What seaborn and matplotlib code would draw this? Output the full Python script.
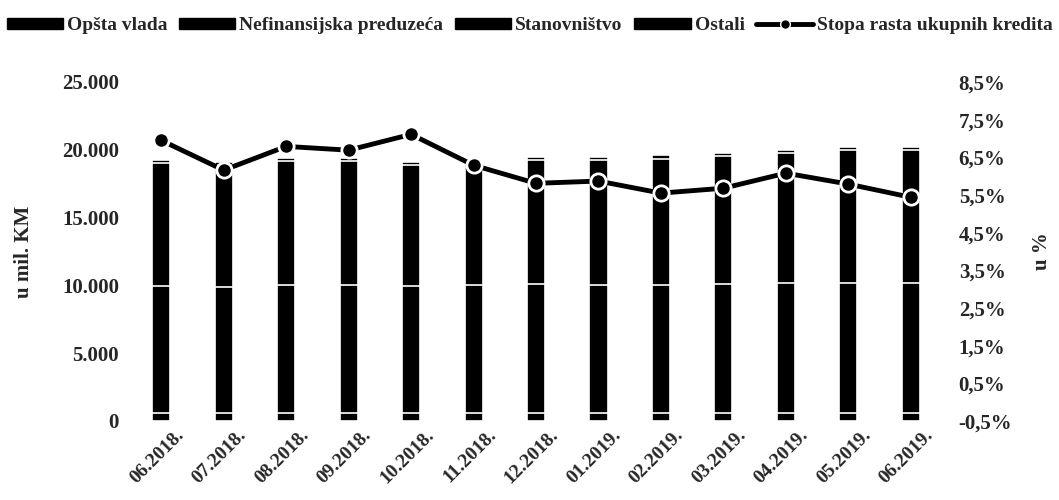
import numpy as np
import pandas as pd
import matplotlib
matplotlib.use("Agg")
import matplotlib.pyplot as plt
import matplotlib.transforms as mtransforms
from matplotlib.patches import Patch
from matplotlib.lines import Line2D
import seaborn as sns

# data (u mil. KM, stopa u %)
months = ["06.2018.", "07.2018.", "08.2018.", "09.2018.", "10.2018.", "11.2018.",
          "12.2018.", "01.2019.", "02.2019.", "03.2019.", "04.2019.", "05.2019.", "06.2019."]
opsta_vlada = [620, 610, 600, 600, 590, 600, 610, 600, 590, 600, 600, 610, 600]
nefinansijska = [9350, 9300, 9400, 9400, 9350, 9400, 9500, 9450, 9450, 9500, 9550, 9600, 9600]
stanovnistvo = [9030, 8940, 9150, 9150, 8910, 8950, 9140, 9200, 9300, 9450, 9600, 9740, 9750]
ostali = [250, 250, 250, 250, 250, 250, 250, 250, 260, 250, 250, 250, 250]
stopa_rasta = [6.95, 6.16, 6.79, 6.69, 7.11, 6.29, 5.81, 5.87, 5.55, 5.68, 6.08, 5.79, 5.44]

df = pd.DataFrame({"mjesec": months, "Opšta vlada": opsta_vlada,
                   "Nefinansijska preduzeća": nefinansijska,
                   "Stanovništvo": stanovnistvo, "Ostali": ostali})
series = ["Opšta vlada", "Nefinansijska preduzeća", "Stanovništvo", "Ostali"]
cum = df[series].cumsum(axis=1)

sns.set_style("white")
plt.rcParams["font.family"] = ["Liberation Serif", "DejaVu Serif"]
plt.rcParams["font.weight"] = "bold"

fig = plt.figure(figsize=(10.59, 5.0), dpi=100)
ax = fig.add_axes([0.1228, 0.158, 0.7667, 0.678])

# stacked bars: draw cumulative totals from top down
for s in reversed(series):
    sns.barplot(x=df["mjesec"], y=cum[s], color="black", saturation=1, width=0.29,
                edgecolor="white", linewidth=1.2, errorbar=None, ax=ax)

ax.set_ylim(0, 25000)
ax.set_yticks(np.arange(0, 25001, 5000))
ax.set_yticklabels([f"{v:,.0f}".replace(",", ".") for v in np.arange(0, 25001, 5000)],
                   fontsize=15, fontweight="bold")
ax.set_xlim(-0.5, len(months) - 0.5)
ax.set_xlabel("")
ax.set_ylabel("u mil. KM", fontsize=15, fontweight="bold", labelpad=20)
ax.tick_params(axis="x", length=0, pad=4)
ax.tick_params(axis="y", length=0, pad=8)
shift = mtransforms.ScaledTranslation(0.14, 0, fig.dpi_scale_trans)
for lbl in ax.get_xticklabels():
    lbl.set_rotation(45)
    lbl.set_ha("right")
    lbl.set_rotation_mode("anchor")
    lbl.set_fontsize(14)
    lbl.set_fontweight("bold")
    lbl.set_transform(lbl.get_transform() + shift)
sns.despine(ax=ax, left=True, bottom=True)

ax2 = ax.twinx()
sns.lineplot(x=np.arange(len(months)), y=stopa_rasta, color="black", linewidth=3.5,
             marker="o", markersize=11, markerfacecolor="black", markeredgecolor="white",
             markeredgewidth=2, ax=ax2)
ax2.set_ylim(-0.5, 8.5)
ticks2 = np.arange(-0.5, 8.6, 1.0)
ax2.set_yticks(ticks2)
ax2.set_yticklabels([f"{t:.1f}%".replace(".", ",") for t in ticks2], fontsize=15,
                    fontweight="bold")
ax2.set_ylabel("u %", fontsize=15, fontweight="bold", labelpad=14)
ax2.tick_params(axis="y", length=0, pad=12)
sns.despine(ax=ax2, left=True, bottom=True, right=True)

handles = [Patch(facecolor="black", edgecolor="black", label=s) for s in series]
handles.append(Line2D([0], [0], color="black", linewidth=3.5, marker="o", markersize=7,
                      markerfacecolor="black", markeredgecolor="white",
                      label="Stopa rasta ukupnih kredita"))
fig.legend(handles=handles, loc="upper center", bbox_to_anchor=(0.5, 1.0), ncol=5,
           frameon=False, fontsize=14, handlelength=2.9, handleheight=0.5,
           handletextpad=0.2, columnspacing=0.6)

fig.savefig("out.png", dpi=100)
